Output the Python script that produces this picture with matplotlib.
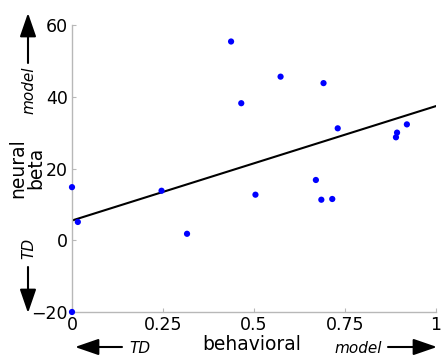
import numpy as np
import matplotlib
matplotlib.use("Agg")
import matplotlib.pyplot as plt

# behavioral vs neural beta, one point per subject
behavioral = [0.0, 0.016, 0.0, 0.246, 0.316, 0.437, 0.465, 0.504, 0.573,
              0.670, 0.685, 0.691, 0.715, 0.730, 0.890, 0.893, 0.920]
neural = [14.8, 5.1, -20.0, 13.8, 1.8, 55.4, 38.2, 12.7, 45.6,
          16.8, 11.3, 43.8, 11.5, 31.2, 28.7, 30.0, 32.3]

# regression line
fit_x = [0.0, 1.0]
fit_y = [5.5, 37.4]

xticks = [0, 0.25, 0.5, 0.75, 1]
xticklabels = ["0", "0.25", "0.5", "0.75", "1"]
yticks = [-20, 0, 20, 40, 60]
yticklabels = ["\u221220", "0", "20", "40", "60"]

W, H = 444, 355
fig = plt.figure(figsize=(W / 100, H / 100), dpi=100)
ax = fig.add_axes([72 / W, 1 - 312 / H, (436 - 72) / W, (312 - 25) / H])

ax.plot(fit_x, fit_y, color="black", lw=1.5, zorder=2)
ax.scatter(behavioral, neural, s=20, color="#0000ff", edgecolors="none",
           zorder=3, clip_on=False)

ax.set_xlim(0, 1)
ax.set_ylim(-20, 60)
ax.set_xticks(xticks)
ax.set_xticklabels(xticklabels)
ax.set_yticks(yticks)
ax.set_yticklabels(yticklabels)

for side in ["top", "right"]:
    ax.spines[side].set_visible(False)
for side in ["left", "bottom"]:
    ax.spines[side].set_color("#b8b8b8")
    ax.spines[side].set_linewidth(1.0)
ax.tick_params(direction="in", length=3, width=0.8, color="#b8b8b8",
               labelsize=12.5, pad=3)

# axis labels
fig.text(27 / W, 1 - 168 / H, "neural\nbeta", rotation=90, ha="center",
         va="center", multialignment="center", fontsize=13.5, linespacing=0.95)
fig.text(252 / W, 0.5 / H, "behavioral", ha="center", va="bottom",
         fontsize=13.5)

# direction arrows
arrow = dict(arrowstyle="-|>,head_length=1.45,head_width=0.5",
             color="black", lw=1.5, shrinkA=0, shrinkB=0, mutation_scale=10)
fig_px = "figure pixels"
ax.annotate("", xy=(28, 342), xytext=(28, 292), xycoords=fig_px,
            textcoords=fig_px, arrowprops=arrow)
ax.annotate("", xy=(28, 42), xytext=(28, 88), xycoords=fig_px,
            textcoords=fig_px, arrowprops=arrow)
ax.annotate("", xy=(75, 8), xytext=(122, 8), xycoords=fig_px,
            textcoords=fig_px, arrowprops=arrow)
ax.annotate("", xy=(437, 8), xytext=(388, 8), xycoords=fig_px,
            textcoords=fig_px, arrowprops=arrow)

fig.text(29 / W, 1 - 90 / H, "model", rotation=90, ha="center", va="center",
         style="italic", fontsize=11)
fig.text(29 / W, 1 - 248 / H, "TD", rotation=90, ha="center", va="center",
         style="italic", fontsize=11)
fig.text(140 / W, 2 / H, "TD", ha="center", va="baseline",
         style="italic", fontsize=11)
fig.text(358 / W, 2 / H, "model", ha="center", va="baseline",
         style="italic", fontsize=11)

fig.savefig("out.png", dpi=100)
